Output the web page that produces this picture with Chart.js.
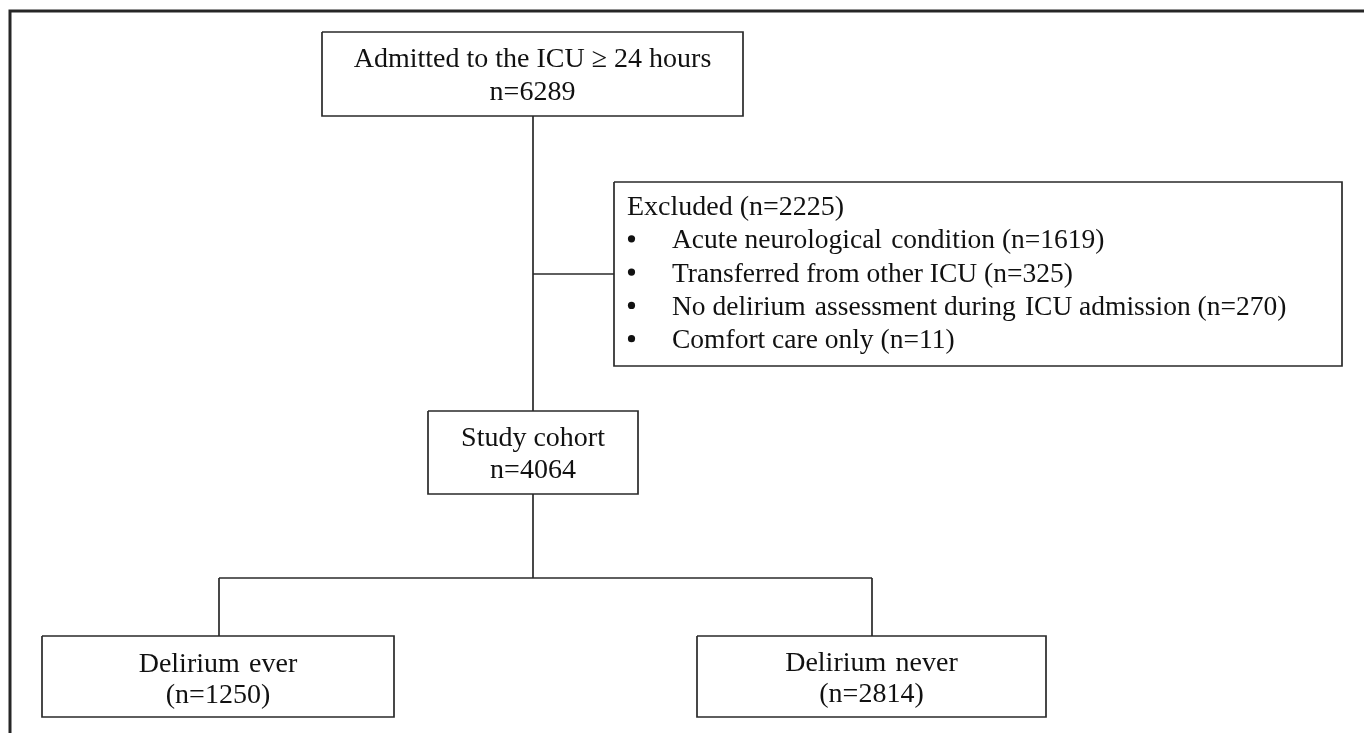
<!DOCTYPE html>
<html><head><meta charset="utf-8">
<script src="https://cdn.jsdelivr.net/npm/chart.js@4/dist/chart.umd.min.js"></script>
<style>html,body{margin:0;padding:0;background:#fff;overflow:hidden}canvas{display:block}</style>
</head><body>
<canvas id="c" width="1364" height="733"></canvas>
<script>
// ---- data ----
const nodeTitles = ["Admitted to the ICU \u2265 24 hours", "Study cohort", "Delirium \u200Aever", "Delirium \u200Anever"];
const nodeCounts = [6289, 4064, 1250, 2814];
const excludedTotal = 2225;
const excludedReasons = ["Acute neurological \u200Acondition", "Transferred from other ICU", "No delirium \u200Aassessment during \u200AICU admission", "Comfort care only"];
const excludedCounts = [1619, 325, 270, 11];

// ---- layout (in scale units) ----
const layout = {
  boxes: [
    {x0:322, y0:32, x1:743, y1:116, lines:[67,100], fmt:"n"},
    {x0:428, y0:411, x1:638, y1:494, lines:[446,478], fmt:"n"},
    {x0:42, y0:636, x1:394, y1:717, lines:[672,703], fmt:"p"},
    {x0:697, y0:636, x1:1046, y1:717, lines:[671,702], fmt:"p"}
  ],
  excl: {x0:614, y0:182, x1:1342, y1:366, textX:627, bulletX:631.5, itemX:672, firstY:215, step:33.3},
  connectors: [
    [[533,116],[533,411]],
    [[533,274],[614,274]],
    [[533,494],[533,578]],
    [[219,578],[872,578]],
    [[219,578],[219,636]],
    [[872,578],[872,636]]
  ],
  frame: [[10,733],[10,11],[1364,11]]
};
const FONT = '28px "Liberation Serif", "Times New Roman", serif';
const ITEM_FONT = '27.5px "Liberation Serif", "Times New Roman", serif';
const INK = '#111111';
const LINE = '#2a2a2a';

function rectPts(b){return [{x:b.x0,y:b.y0},{x:b.x1,y:b.y0},{x:b.x1,y:b.y1},{x:b.x0,y:b.y1},{x:b.x0,y:b.y0}];}
const datasets = [];
layout.boxes.concat([layout.excl]).forEach(b=>{
  datasets.push({data:rectPts(b), showLine:true, borderColor:LINE, borderWidth:1.7, pointRadius:0, fill:false, tension:0});
});
layout.connectors.forEach(seg=>{
  datasets.push({data:seg.map(p=>({x:p[0],y:p[1]})), showLine:true, borderColor:LINE, borderWidth:1.7, pointRadius:0, fill:false});
});
datasets.push({data:layout.frame.map(p=>({x:p[0],y:p[1]})), showLine:true, borderColor:'#262626', borderWidth:3, pointRadius:0, fill:false, borderJoinStyle:'miter'});

const textPlugin = {
  id:'flowText',
  afterDatasetsDraw(chart){
    const ctx = chart.ctx, xs = chart.scales.x, ys = chart.scales.y;
    const X = v=>xs.getPixelForValue(v), Y = v=>ys.getPixelForValue(v);
    ctx.save();
    ctx.font = FONT; ctx.fillStyle = INK; ctx.textBaseline = 'alphabetic';
    ctx.textAlign = 'center';
    layout.boxes.forEach((b,i)=>{
      const cx = X((b.x0+b.x1)/2);
      ctx.fillText(nodeTitles[i], cx, Y(b.lines[0]));
      const c = b.fmt === 'n' ? 'n=' + nodeCounts[i] : '(n=' + nodeCounts[i] + ')';
      ctx.fillText(c, cx, Y(b.lines[1]));
    });
    const e = layout.excl;
    ctx.textAlign = 'left';
    ctx.fillText('Excluded (n=' + excludedTotal + ')', X(e.textX), Y(e.firstY));
    ctx.font = ITEM_FONT;
    excludedReasons.forEach((r,i)=>{
      const by = e.firstY + e.step*(i+1);
      ctx.beginPath();
      ctx.arc(X(e.bulletX), Y(by-9.5), 3.6, 0, Math.PI*2);
      ctx.fill();
      ctx.fillText(r + ' (n=' + excludedCounts[i] + ')', X(e.itemX), Y(by));
    });
    ctx.restore();
  }
};

new Chart(document.getElementById('c'), {
  type:'scatter',
  data:{datasets},
  options:{
    responsive:false, animation:false, devicePixelRatio:1,
    layout:{padding:0},
    plugins:{legend:{display:false}, tooltip:{enabled:false}},
    scales:{
      x:{type:'linear', min:0, max:1364, display:false},
      y:{type:'linear', min:0, max:733, reverse:true, display:false}
    }
  },
  plugins:[textPlugin]
});
</script>
</body></html>
